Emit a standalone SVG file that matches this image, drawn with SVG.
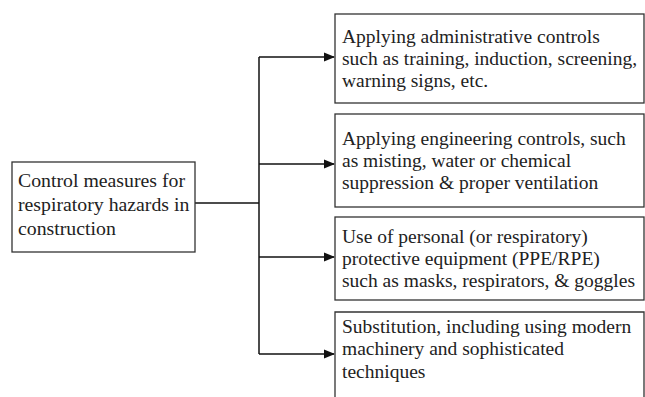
<svg xmlns="http://www.w3.org/2000/svg" width="645" height="397" viewBox="0 0 645 397">
<defs>
<style>
.box{fill:#fff;stroke:#333;stroke-width:1.3}
.t{font-family:"Liberation Serif","Times New Roman",serif;font-size:19.5px;fill:#222}
.l{font-size:19.8px}
.c{fill:none;stroke:#111;stroke-width:1.5}
</style>
<marker id="ah" markerWidth="11" markerHeight="10" refX="10" refY="5" orient="auto" markerUnits="userSpaceOnUse">
<path d="M0,0.5 L11,5 L0,9.5 Z" fill="#111"/>
</marker>
</defs>
<rect width="645" height="397" fill="#fff"/>
<g id="connectors">
<path class="c" d="M195,203 H259"/>
<path class="c" d="M259,57 V354"/>
<path class="c" d="M259,57 H334" marker-end="url(#ah)"/>
<path class="c" d="M259,164 H334" marker-end="url(#ah)"/>
<path class="c" d="M259,257 H334" marker-end="url(#ah)"/>
<path class="c" d="M259,354 H334" marker-end="url(#ah)"/>
</g>
<g id="root">
<rect class="box" x="12" y="162" width="183" height="90"/>
<text class="t l" x="18" y="187">Control measures for</text>
<text class="t l" x="18" y="211">respiratory hazards in</text>
<text class="t l" x="18" y="235">construction</text>
</g>
<g id="admin">
<rect class="box" x="335" y="14" width="309" height="89"/>
<text class="t" x="342" y="43">Applying administrative controls</text>
<text class="t" x="342" y="65">such as training, induction, screening,</text>
<text class="t" x="342" y="87">warning signs, etc.</text>
</g>
<g id="engineering">
<rect class="box" x="335" y="114" width="309" height="93"/>
<text class="t" x="342" y="145">Applying engineering controls, such</text>
<text class="t" x="342" y="167">as misting, water or chemical</text>
<text class="t" x="342" y="189">suppression &amp; proper ventilation</text>
</g>
<g id="ppe">
<rect class="box" x="335" y="217" width="309" height="83"/>
<text class="t" x="342" y="243">Use of personal (or respiratory)</text>
<text class="t" x="342" y="265">protective equipment (PPE/RPE)</text>
<text class="t" x="342" y="287">such as masks, respirators, &amp; goggles</text>
</g>
<g id="substitution">
<path class="box" d="M335,400 V312 H644 V400"/>
<text class="t" x="342" y="333">Substitution, including using modern</text>
<text class="t" x="342" y="355">machinery and sophisticated</text>
<text class="t" x="342" y="378">techniques</text>
</g>
</svg>
